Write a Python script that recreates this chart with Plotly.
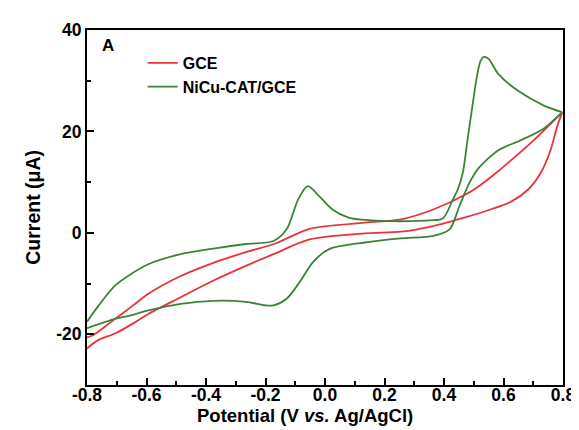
import plotly.graph_objects as go

# GCE (red) cyclic voltammogram: forward (anodic) branch then reverse branch
gce_fwd_x = [-0.8, -0.78, -0.72, -0.643, -0.594, -0.485, -0.375, -0.266, -0.167, -0.052, 0.134, 0.255, 0.364, 0.474, 0.517, 0.583, 0.627, 0.693, 0.736, 0.797]
gce_fwd_y = [-20.6, -20.2, -17.6, -14.2, -12.0, -8.5, -5.9, -3.8, -2.1, 0.8, 2.0, 2.65, 4.6, 7.6, 9.2, 12.2, 14.4, 17.8, 20.2, 23.7]
gce_rev_x = [0.797, 0.78, 0.758, 0.725, 0.682, 0.627, 0.561, 0.474, 0.364, 0.255, 0.134, -0.052, -0.173, -0.266, -0.375, -0.485, -0.594, -0.643, -0.704, -0.764, -0.8]
gce_rev_y = [23.7, 20.9, 16.3, 11.8, 8.5, 6.2, 4.7, 3.1, 1.35, 0.25, -0.1, -1.3, -4.2, -6.5, -9.4, -12.7, -16.0, -17.8, -19.8, -21.2, -22.8]

# NiCu-CAT/GCE (green)
cat_fwd_x = [-0.8, -0.764, -0.704, -0.594, -0.485, -0.375, -0.266, -0.173, -0.129, -0.090, -0.058, -0.019, 0.025, 0.079, 0.156, 0.222, 0.353, 0.397, 0.43, 0.446, 0.463, 0.479, 0.495, 0.512, 0.523, 0.534, 0.55, 0.583, 0.649, 0.736, 0.797]
cat_fwd_y = [-17.5, -14.6, -10.3, -6.2, -4.2, -3.1, -2.2, -1.6, 0.7, 6.6, 9.2, 7.2, 4.6, 3.0, 2.45, 2.3, 2.45, 2.9, 6.6, 8.5, 11.8, 18.3, 24.8, 31.3, 33.9, 34.7, 34.3, 31.3, 28.0, 25.1, 23.8]
cat_rev_x = [0.797, 0.736, 0.66, 0.583, 0.517, 0.485, 0.452, 0.419, 0.364, 0.255, 0.134, 0.014, -0.041, -0.085, -0.129, -0.173, -0.2, -0.266, -0.375, -0.485, -0.594, -0.649, -0.72, -0.8]
cat_rev_y = [23.8, 20.6, 18.3, 16.3, 12.8, 9.8, 5.3, 0.7, -0.6, -1.1, -1.9, -3.2, -5.8, -9.7, -13.0, -14.3, -14.3, -13.6, -13.4, -14.0, -15.3, -16.2, -17.2, -18.8]

x_ticks = [-0.8, -0.6, -0.4, -0.2, 0.0, 0.2, 0.4, 0.6, 0.8]
x_tick_text = ["-0.8", "-0.6", "-0.4", "-0.2", "0.0", "0.2", "0.4", "0.6", "0.8"]
x_minor = [-0.7, -0.5, -0.3, -0.1, 0.1, 0.3, 0.5, 0.7]
y_ticks = [-20, 0, 20, 40]
y_tick_text = ["-20", "0", "20", "40"]
y_minor = [-10, 10, 30]

FONT = "Liberation Sans, Arial, sans-serif"
RED = "#e8323c"
GREEN = "#3a8438"

fig = go.Figure()
for name, color, bx, by, bx2, by2 in [
    ("GCE", RED, gce_fwd_x, gce_fwd_y, gce_rev_x, gce_rev_y),
    ("NiCu-CAT/GCE", GREEN, cat_fwd_x, cat_fwd_y, cat_rev_x, cat_rev_y),
]:
    fig.add_trace(go.Scatter(x=bx, y=by, mode="lines", name=name, legendgroup=name,
                             line=dict(color=color, width=1.8, shape="spline", smoothing=0.8)))
    fig.add_trace(go.Scatter(x=bx2, y=by2, mode="lines", name=name, legendgroup=name,
                             showlegend=False,
                             line=dict(color=color, width=1.8, shape="spline", smoothing=0.8)))

axis_common = dict(showline=True, linecolor="black", linewidth=2, mirror=True,
                   ticks="inside", ticklen=7, tickwidth=2, tickcolor="black",
                   showgrid=False, zeroline=False,
                   tickfont=dict(family=FONT, size=17.5, color="black", weight="bold"))

fig.update_layout(
    width=579, height=430,
    margin=dict(l=79, r=13, t=19, b=53),
    paper_bgcolor="white", plot_bgcolor="white",
    xaxis=dict(range=[-0.8, 0.8], tickvals=x_ticks, ticktext=x_tick_text,
               ticklabelstandoff=-7,
               minor=dict(tickvals=x_minor, ticks="inside", ticklen=4, tickwidth=2, tickcolor="black"),
               **axis_common),
    yaxis=dict(range=[-30, 40], tickvals=y_ticks, ticktext=y_tick_text,
               minor=dict(tickvals=y_minor, ticks="inside", ticklen=4, tickwidth=2, tickcolor="black"),
               **axis_common),
    showlegend=True,
    legend=dict(x=0.117, y=0.955, xanchor="left", yanchor="top",
                bgcolor="rgba(0,0,0,0)", borderwidth=0,
                font=dict(family=FONT, size=16, color="black", weight="bold"),
                tracegroupgap=0),
)

fig.add_annotation(text="A", xref="paper", yref="paper", x=0.045, y=0.955,
                   xanchor="center", yanchor="middle", showarrow=False,
                   font=dict(family=FONT, size=17, color="black", weight="bold"))
fig.add_annotation(text="Potential (V <i>vs.</i> Ag/AgCl)", xref="paper", yref="paper",
                   x=(302 - 79) / 487, y=-31 / 358, xanchor="center", yanchor="middle",
                   showarrow=False,
                   font=dict(family=FONT, size=18.5, color="black", weight="bold"))
fig.add_annotation(text="Current (\u03bcA)", xref="paper", yref="paper",
                   x=-56 / 487, y=(377 - 198) / 358, xanchor="center", yanchor="middle",
                   textangle=-90, showarrow=False,
                   font=dict(family=FONT, size=19.5, color="black", weight="bold"))

fig.write_html("out.html")
